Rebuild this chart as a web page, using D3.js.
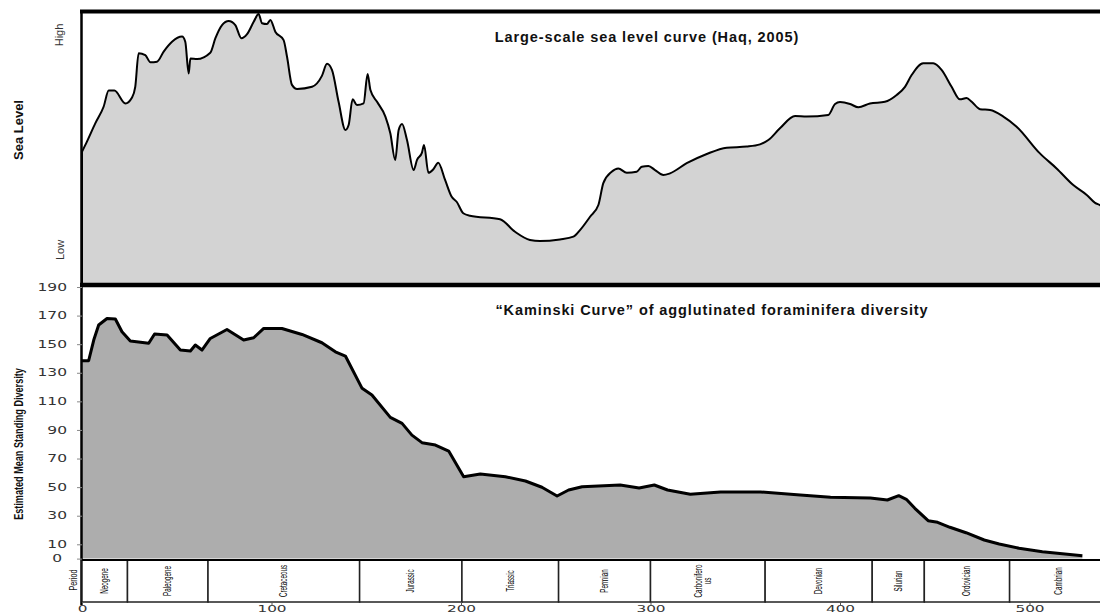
<!DOCTYPE html>
<html>
<head>
<meta charset="utf-8">
<script src="https://cdn.jsdelivr.net/npm/d3@7"></script>
<style>
  html, body { margin: 0; padding: 0; background: #fff; }
  svg { display: block; }
  text { font-family: "Liberation Sans", Arial, sans-serif; fill: #111; }
  .tick text { font-family: "DejaVu Sans", sans-serif; font-size: 10px; fill: #333; }
</style>
</head>
<body>
<svg id="chart" width="1100" height="615"></svg>
<script>
// Haq (2005) sea level, relative index (0 = low, 100 = high)
var seaAge = [0, 2.6, 7, 11.4, 14.1, 17.1, 22.9, 26.4, 28.1, 29.9, 33.4, 36.1, 39.6, 43.1, 47.5,
  52.8, 54.5, 56.3, 57.2, 60.7, 67.7, 70.4, 73.9, 77.4, 80.9, 84.1, 87.1, 90.6, 93.2, 95,
  97.6, 99.4, 102, 106.4, 108.2, 110.8, 113.5, 121.4, 126.6, 129.3, 131.9, 135.4, 139, 140.7,
  142.8, 145.1, 148.6, 150.7, 152.2, 155.7, 160.1, 162.7, 165.3, 167.1, 168.9, 171.5, 175,
  176.8, 179.4, 180.5, 182.8, 185.4, 188, 191.6, 195.1, 197.7, 201.2, 204.7, 220.6, 228.5,
  236.4, 241.7, 252.2, 259.3, 262.8, 268.1, 272.5, 275.1, 279.5, 283, 287.5, 292.7, 295.4,
  298.9, 302.4, 306.8, 310.3, 319.1, 329.7, 340.2, 350.8, 357.8, 362.2, 368.3, 376.3, 382.4,
  393.8, 397.4, 400, 405.3, 409.7, 415.8, 423.7, 429.9, 434.3, 437.8, 443.9, 449.2, 453.6,
  458.9, 463.3, 466.8, 469.5, 473.9, 479.2, 486.2, 493.2, 505.5, 514.3, 523.1, 530.2, 534.6,
  537.2, 541];
var seaLevel = [48.8, 52.5, 59.2, 65.3, 71.2, 71.2, 66.5, 68.7, 72.6, 84.9, 84.2, 81.6, 81.8, 85.5, 89.1,
  91, 89.1, 77.5, 83, 82.8, 85.1, 90.4, 95.2, 96.7, 95.2, 90.4, 91.9, 96.4, 99.3, 95.9,
  95.6, 97.1, 92.8, 89.7, 83.6, 73.3, 71.8, 72.6, 76.6, 81, 78.8, 67.1, 56.8, 58.6,
  68, 65.9, 66.5, 77.3, 71.4, 67.1, 61.7, 55.6, 45.8, 56.8, 59, 53.1, 42.1,
  45.8, 48.5, 51.3, 41.1, 42.4, 44.8, 38.5, 32.3, 30.5, 26.3, 25.4, 24.1, 19.5,
  16.5, 16.1, 16.7, 17.7, 20.1, 25, 29.3, 37.3, 41.5, 42.7, 41.1, 41.5, 43.3,
  43.6, 42.1, 40.3, 40.9, 44.6, 48, 50.3, 50.7, 51.5, 53.1, 57.4, 61.9, 61.7,
  62.3, 66.3, 67, 66.3, 65.1, 66.5, 67.1, 69.6, 72.6, 76.9, 81.2, 81.2, 78.8,
  72.6, 68, 68.5, 67.1, 64.4, 64.1, 61.7, 58, 48.2, 42.7, 36.6, 33, 30.1,
  29.3, 27.5];

// Kaminski curve, estimated mean standing diversity
var divAge = [0, 3.5, 6.2, 8.8, 13.2, 17.6, 21.1, 25.5, 35.2, 38.3, 44.9, 51.9, 57.2, 59.8, 63.3,
  67.7, 76.5, 85.3, 90.6, 95.9, 105.5, 116.1, 126.6, 133.7, 139, 147.8, 153, 162.7, 168.9,
  174.1, 179.4, 186.5, 193.5, 201.4, 210.2, 223.4, 234, 242.7, 250.7, 256.8, 263.9, 284,
  294, 302, 309, 321, 337, 358, 379, 395, 416, 425, 431, 435, 439.5, 446.5, 451.5, 458,
  466.5, 476.1, 484, 494.5, 506.8, 527.9];
var diversity = [138.4, 138.4, 152.9, 163.4, 168, 167.6, 158.7, 152.2, 150.6, 157.1, 156.4, 145.9, 145.2, 149.4, 145.9,
  154, 160.3, 152.9, 154.5, 161, 161, 156.8, 151, 144.7, 141.7, 119.1, 114.4, 98.8, 94.6,
  86.4, 81.1, 79.4, 75.2, 57.3, 59.2, 57.3, 54.3, 49.9, 43.8, 48, 50.3, 51.5,
  49.4, 51.5, 48, 45, 46.6, 46.6, 44.5, 43, 42.4, 41, 44, 41.5, 35.2, 26.5, 25.4, 21.9,
  18.1, 13, 10.2, 7.2, 4.8, 2];

var periodNames = ["Neogene", "Paleogene", "Cretaceous", "Jurassic", "Triassic", "Permian",
  "Carbonifero\nus", "Devonian", "Silurian", "Ordovician", "Cambrian"];
var periodBounds = [0, 24, 66.5, 146.5, 200.5, 251.5, 300, 360.5, 417, 444.5, 489.5, 541];

var divTicks = [0, 10, 30, 50, 70, 90, 110, 130, 150, 170, 190];
var ageTicks = [0, 100, 200, 300, 400, 500];

var svg = d3.select("#chart");

var x = d3.scaleLinear().domain([0, 541]).range([82, 82 + 541 * 1.895]);
var ySea = d3.scaleLinear().domain([0, 100]).range([285, 12]);
var yDiv = d3.scaleLinear().domain([0, 190]).range([558.6, 287]);

var sea = seaAge.map(function(a, i) { return {age: a, v: seaLevel[i]}; });
var div = divAge.map(function(a, i) { return {age: a, v: diversity[i]}; });

// top panel: sea level
svg.append("path")
    .datum(sea)
    .attr("fill", "#d3d3d3")
    .attr("stroke", "#000")
    .attr("stroke-width", 2)
    .attr("stroke-linejoin", "round")
    .attr("d", d3.area()
      .x(function(d) { return x(d.age); })
      .y0(ySea(0))
      .y1(function(d) { return ySea(d.v); })
      .curve(d3.curveMonotoneX));

// bottom panel: diversity
svg.append("path")
    .datum(div)
    .attr("fill", "#adadad")
    .attr("d", d3.area()
      .x(function(d) { return x(d.age); })
      .y0(yDiv(0))
      .y1(function(d) { return yDiv(d.v); }));

svg.append("path")
    .datum(div)
    .attr("fill", "none")
    .attr("stroke", "#000")
    .attr("stroke-width", 3)
    .attr("stroke-linejoin", "round")
    .attr("d", d3.line()
      .x(function(d) { return x(d.age); })
      .y(function(d) { return yDiv(d.v); }));

// frame lines
svg.append("line").attr("x1", 80).attr("x2", 1100).attr("y1", 11.5).attr("y2", 11.5)
    .attr("stroke", "#000").attr("stroke-width", 4);
svg.append("line").attr("x1", 80).attr("x2", 1100).attr("y1", 285).attr("y2", 285)
    .attr("stroke", "#000").attr("stroke-width", 4.5);
svg.append("line").attr("x1", 81.5).attr("x2", 81.5).attr("y1", 10).attr("y2", 605)
    .attr("stroke", "#000").attr("stroke-width", 2.5);

// period strip
var cells = svg.append("g").selectAll("g")
    .data(periodNames)
    .enter().append("g");

cells.append("rect")
    .attr("x", function(d, i) { return x(periodBounds[i]); })
    .attr("y", 560)
    .attr("width", function(d, i) { return x(periodBounds[i + 1]) - x(periodBounds[i]); })
    .attr("height", 42)
    .attr("fill", "#fff")
    .attr("stroke", "#222")
    .attr("stroke-width", 1.5);

cells.append("text")
    .attr("transform", function(d, i) {
      var cx = (x(periodBounds[i]) + x(periodBounds[i + 1])) / 2;
      var lines = d.split("\n").length;
      return "translate(" + (cx + 3.5 - (lines - 1) * 9) + ",581) rotate(-90) scale(0.6,1)";
    })
    .attr("text-anchor", "middle")
    .style("font-size", "10.5px")
    .style("fill", "#000")
    .selectAll("tspan")
    .data(function(d) { return d.split("\n"); })
    .enter().append("tspan")
    .attr("x", 0)
    .attr("dy", function(d, i) { return i ? "9" : "0"; })
    .text(function(d) { return d; });

svg.append("line").attr("x1", 82).attr("x2", 1100).attr("y1", 560).attr("y2", 560)
    .attr("stroke", "#000").attr("stroke-width", 2);

// axes
var yAxis = svg.append("g")
    .attr("transform", "translate(82,0)")
    .call(d3.axisLeft(yDiv).tickValues(divTicks).tickSize(5).tickSizeOuter(0));
yAxis.select(".domain").remove();
yAxis.selectAll(".tick line").attr("stroke", "#888");
yAxis.selectAll(".tick text")
    .attr("x", function(d) { return d === 0 ? -20 / 1.55 : -15 / 1.55; })
    .attr("transform", "scale(1.55,1)");

var xAxis = svg.append("g")
    .attr("transform", "translate(0,602)")
    .call(d3.axisBottom(x).tickValues(ageTicks).tickSize(3).tickSizeOuter(0));
xAxis.select(".domain").remove();
xAxis.selectAll(".tick line").attr("stroke", "#555");
xAxis.selectAll(".tick text")
    .style("font-size", "9px")
    .attr("x", 0)
    .attr("y", 0)
    .attr("dy", "10.3")
    .attr("transform", "scale(1.7,1)");

// titles and labels
svg.append("text")
    .attr("x", 647).attr("y", 42)
    .attr("text-anchor", "middle")
    .style("font-size", "14.5px").style("font-weight", "bold")
    .style("letter-spacing", "0.9px")
    .text("Large-scale sea level curve (Haq, 2005)");

svg.append("text")
    .attr("x", 712).attr("y", 315)
    .attr("text-anchor", "middle")
    .style("font-size", "14.5px").style("font-weight", "bold")
    .style("letter-spacing", "0.9px")
    .text("\u201cKaminski Curve\u201d of agglutinated foraminifera diversity");

svg.append("text")
    .attr("transform", "translate(23,130) rotate(-90)")
    .attr("text-anchor", "middle")
    .style("font-size", "13px").style("font-weight", "bold")
    .text("Sea Level");

svg.append("text")
    .attr("transform", "translate(63,35) rotate(-90)")
    .attr("text-anchor", "middle")
    .style("font-size", "11px").style("fill", "#333")
    .text("High");

svg.append("text")
    .attr("transform", "translate(64,250) rotate(-90)")
    .attr("text-anchor", "middle")
    .style("font-size", "11px").style("fill", "#333")
    .text("Low");

svg.append("text")
    .attr("transform", "translate(23,444) rotate(-90) scale(0.7,1)")
    .attr("text-anchor", "middle")
    .style("font-size", "13px").style("font-weight", "bold")
    .text("Estimated Mean Standing Diversity");

svg.append("text")
    .attr("transform", "translate(77,580) rotate(-90) scale(0.7,1)")
    .attr("text-anchor", "middle")
    .style("font-size", "10.5px")
    .text("Period");
</script>
</body>
</html>
